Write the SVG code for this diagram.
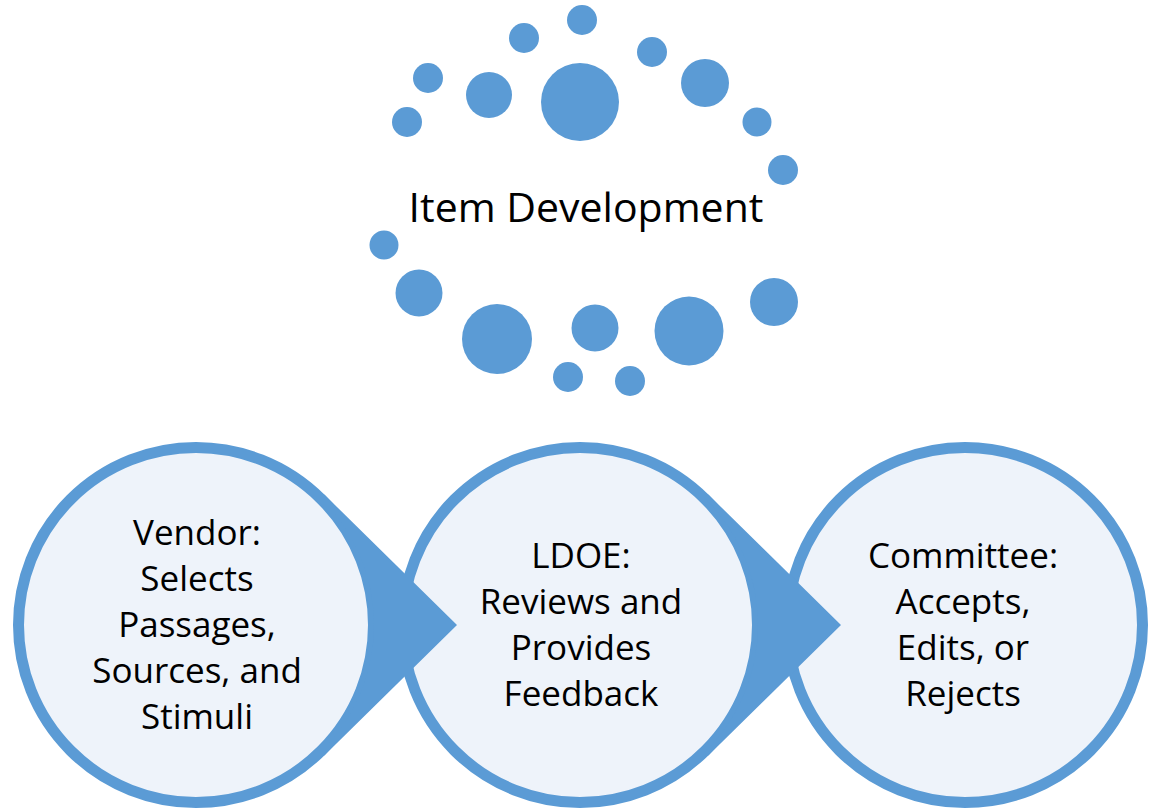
<svg xmlns="http://www.w3.org/2000/svg" width="1151" height="809" viewBox="0 0 1151 809">
  <style>
    .dot { fill: #5B9BD5; }
    .node-body { fill: #EEF3FA; stroke: #5B9BD5; stroke-width: 11; }
    .flow { fill: #5B9BD5; stroke: none; }
    .label { font-family: "Open Sans", "Liberation Sans", sans-serif; font-size: 35px; fill: #000; text-anchor: middle; }
    .title { font-family: "Open Sans", "Liberation Sans", sans-serif; font-size: 41px; fill: #000; text-anchor: middle; }
  </style>
  <rect width="1151" height="809" fill="#ffffff"/>

  <!-- ring of dots around the heading -->
  <g id="dot-ring">
    <circle class="dot" cx="582" cy="20" r="15"/>
    <circle class="dot" cx="524" cy="38" r="15"/>
    <circle class="dot" cx="652" cy="52" r="15"/>
    <circle class="dot" cx="428" cy="78" r="15"/>
    <circle class="dot" cx="489" cy="95" r="23"/>
    <circle class="dot" cx="580" cy="102" r="39"/>
    <circle class="dot" cx="705" cy="83" r="24"/>
    <circle class="dot" cx="407" cy="122" r="15"/>
    <circle class="dot" cx="757" cy="122" r="14.5"/>
    <circle class="dot" cx="783" cy="170" r="15"/>
    <circle class="dot" cx="384" cy="245" r="14.5"/>
    <circle class="dot" cx="419" cy="293" r="23.5"/>
    <circle class="dot" cx="497" cy="339" r="35"/>
    <circle class="dot" cx="595" cy="328" r="23.5"/>
    <circle class="dot" cx="689" cy="331" r="34.5"/>
    <circle class="dot" cx="774" cy="302" r="24"/>
    <circle class="dot" cx="568" cy="377" r="15"/>
    <circle class="dot" cx="630" cy="381" r="15"/>
  </g>

  <g id="heading">
    <text class="title" x="586" y="222">Item Development</text>
  </g>

  <!-- process steps -->
  <g id="node-vendor">
    <circle class="node-body" cx="196" cy="625" r="177.5"/>
    <text class="label" x="197" y="545">Vendor:</text>
    <text class="label" x="197" y="591">Selects</text>
    <text class="label" x="197" y="637">Passages,</text>
    <text class="label" x="197" y="683">Sources, and</text>
    <text class="label" x="197" y="729">Stimuli</text>
  </g>
  <g id="node-ldoe">
    <circle class="node-body" cx="580" cy="625" r="177.5"/>
    <text class="label" x="581" y="568">LDOE:</text>
    <text class="label" x="581" y="614">Reviews and</text>
    <text class="label" x="581" y="660">Provides</text>
    <text class="label" x="581" y="706">Feedback</text>
  </g>
  <g id="node-committee">
    <circle class="node-body" cx="965" cy="625" r="177.5"/>
    <text class="label" x="963" y="568">Committee:</text>
    <text class="label" x="963" y="614">Accepts,</text>
    <text class="label" x="963" y="660">Edits, or</text>
    <text class="label" x="963" y="706">Rejects</text>
  </g>

  <!-- pointed tails leading from one step into the next -->
  <g id="connectors">
    <path class="flow" d="M 324.3 494.5 L 457 625 L 324.3 755.5 L 320.8 751.9 A 178 178 0 0 0 320.8 498.1 Z"/>
    <path class="flow" d="M 708.3 494.5 L 841 625 L 708.3 755.5 L 704.8 751.9 A 178 178 0 0 0 704.8 498.1 Z"/>
  </g>
</svg>
